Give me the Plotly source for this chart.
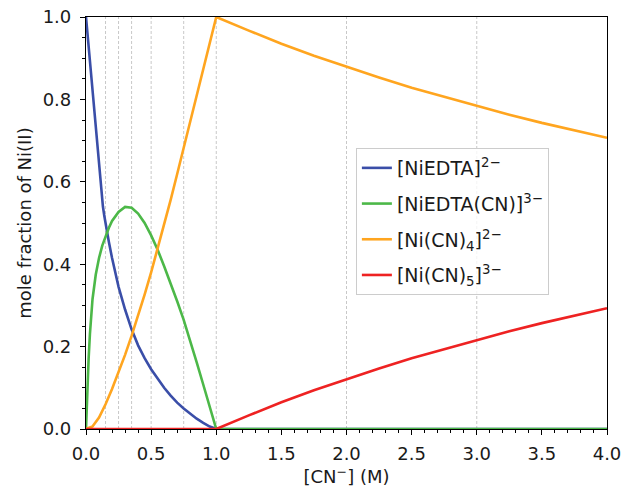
import plotly.graph_objects as go

# ---- data ----
# [NiEDTA]2-
x_edta = [0.0, 0.025, 0.05, 0.075, 0.1, 0.11, 0.12, 0.13, 0.14, 0.15, 0.175, 0.2, 0.25, 0.3, 0.35,
          0.4, 0.45, 0.5, 0.55, 0.6, 0.65, 0.7, 0.75, 0.8, 0.85, 0.9, 0.95, 1.0, 4.0]
y_edta = [1.0, 0.91, 0.82, 0.73, 0.64, 0.60, 0.565, 0.54, 0.518, 0.498, 0.455, 0.415, 0.345, 0.29, 0.242,
          0.203, 0.172, 0.145, 0.121, 0.100, 0.081, 0.064, 0.050, 0.037, 0.025, 0.015, 0.006, 0.0, 0.0]

# [NiEDTA(CN)]3-
x_edta_cn = [0.0, 0.005, 0.01, 0.02, 0.03, 0.04, 0.05, 0.075, 0.1, 0.125, 0.15, 0.175, 0.2, 0.25, 0.3,
             0.35, 0.4, 0.45, 0.5, 0.55, 0.6, 0.65, 0.7, 0.75, 0.8, 0.85, 0.9, 0.95, 1.0, 4.0]
y_edta_cn = [0.0, 0.05, 0.10, 0.17, 0.23, 0.28, 0.315, 0.375, 0.415, 0.445, 0.468, 0.488, 0.505, 0.527, 0.539,
             0.537, 0.523, 0.50, 0.47, 0.435, 0.395, 0.354, 0.31, 0.265, 0.215, 0.162, 0.108, 0.054, 0.0, 0.0]

# [Ni(CN)4]2-
x_cn4 = [0.0, 0.05, 0.1, 0.15, 0.2, 0.25, 0.3, 0.35, 0.4, 0.45, 0.5, 0.55, 0.6, 0.65, 0.7, 0.75, 0.8,
         0.85, 0.9, 0.95, 1.0, 1.25, 1.5, 1.75, 2.0, 2.25, 2.5, 2.75, 3.0, 3.25, 3.5, 3.75, 4.0]
y_cn4 = [0.0, 0.006, 0.028, 0.060, 0.097, 0.137, 0.180, 0.226, 0.274, 0.326, 0.380, 0.437, 0.495, 0.556,
         0.619, 0.683, 0.747, 0.811, 0.874, 0.937, 1.0, 0.967, 0.935, 0.906, 0.879, 0.853, 0.828, 0.806,
         0.784, 0.763, 0.743, 0.725, 0.707]

# [Ni(CN)5]3-
x_cn5 = [0.0, 1.0, 1.25, 1.5, 1.75, 2.0, 2.25, 2.5, 2.75, 3.0, 3.25, 3.5, 3.75, 4.0]
y_cn5 = [0.0, 0.0, 0.033, 0.065, 0.094, 0.121, 0.147, 0.172, 0.194, 0.216, 0.237, 0.257, 0.275, 0.293]

ref_lines = [0.15, 0.25, 0.35, 0.5, 0.75, 1.0, 2.0, 3.0]

names = ["[NiEDTA]<sup>2−</sup>", "[NiEDTA(CN)]<sup>3−</sup>",
         "[Ni(CN)<sub>4</sub>]<sup>2−</sup>", "[Ni(CN)<sub>5</sub>]<sup>3−</sup>"]
colors = ["#3a4ea8", "#4cb848", "#ffa51f", "#ee2222"]
series = [(x_edta, y_edta), (x_edta_cn, y_edta_cn), (x_cn4, y_cn4), (x_cn5, y_cn5)]

fig = go.Figure()
for i, (nm, col, (xs, ys)) in enumerate(zip(names, colors, series)):
    fig.add_trace(go.Scatter(x=xs, y=ys, mode="lines", name=nm, legendgroup=f"g{i}",
                             line=dict(color=col, width=2.6)))

for xv in ref_lines:
    fig.add_shape(type="line", xref="x", yref="paper", x0=xv, x1=xv, y0=0, y1=1,
                  line=dict(color="#c8c8c8", width=1, dash="3px,2px"), layer="below")

font = dict(family="DejaVu Sans", size=18, color="#1a1a1a")
axis_common = dict(showline=True, linecolor="black", linewidth=1.2, mirror=True,
                   ticks="outside", ticklen=5, tickwidth=1, tickcolor="black",
                   showgrid=False, zeroline=False, tickfont=font, automargin=False)

fig.update_layout(
    width=622, height=490,
    margin=dict(l=86, r=15, t=17, b=61),
    paper_bgcolor="white", plot_bgcolor="white",
    font=font,
    showlegend=True,
    legend=dict(x=0.518, y=0.682, xanchor="left", yanchor="top",
                traceorder="grouped", tracegroupgap=8,
                bgcolor="rgba(255,255,255,0.8)", bordercolor="#cccccc", borderwidth=1,
                font=dict(family="DejaVu Sans", size=19, color="#1a1a1a")),
    xaxis=dict(range=[0, 4], dtick=0.5, tickformat=".1f", ticklabelstandoff=3,
               minor=dict(dtick=0.1, ticks="outside", ticklen=3, tickcolor="black"),
               title=dict(text="[CN<sup>−</sup>] (M)", font=font, standoff=6),
               **axis_common),
    yaxis=dict(range=[0, 1], dtick=0.2, tickformat=".1f", ticklabelstandoff=5,
               minor=dict(dtick=0.05, ticks="outside", ticklen=3, tickcolor="black"),
               title=dict(text="mole fraction of Ni(II)", font=font, standoff=6),
               **axis_common),
)

# remove the browser's default page margin so the figure sits at the window's top-left
fig.write_html("out.html", config={"displayModeBar": False},
               post_script="document.body.style.margin='0';document.body.style.overflow='hidden';")
